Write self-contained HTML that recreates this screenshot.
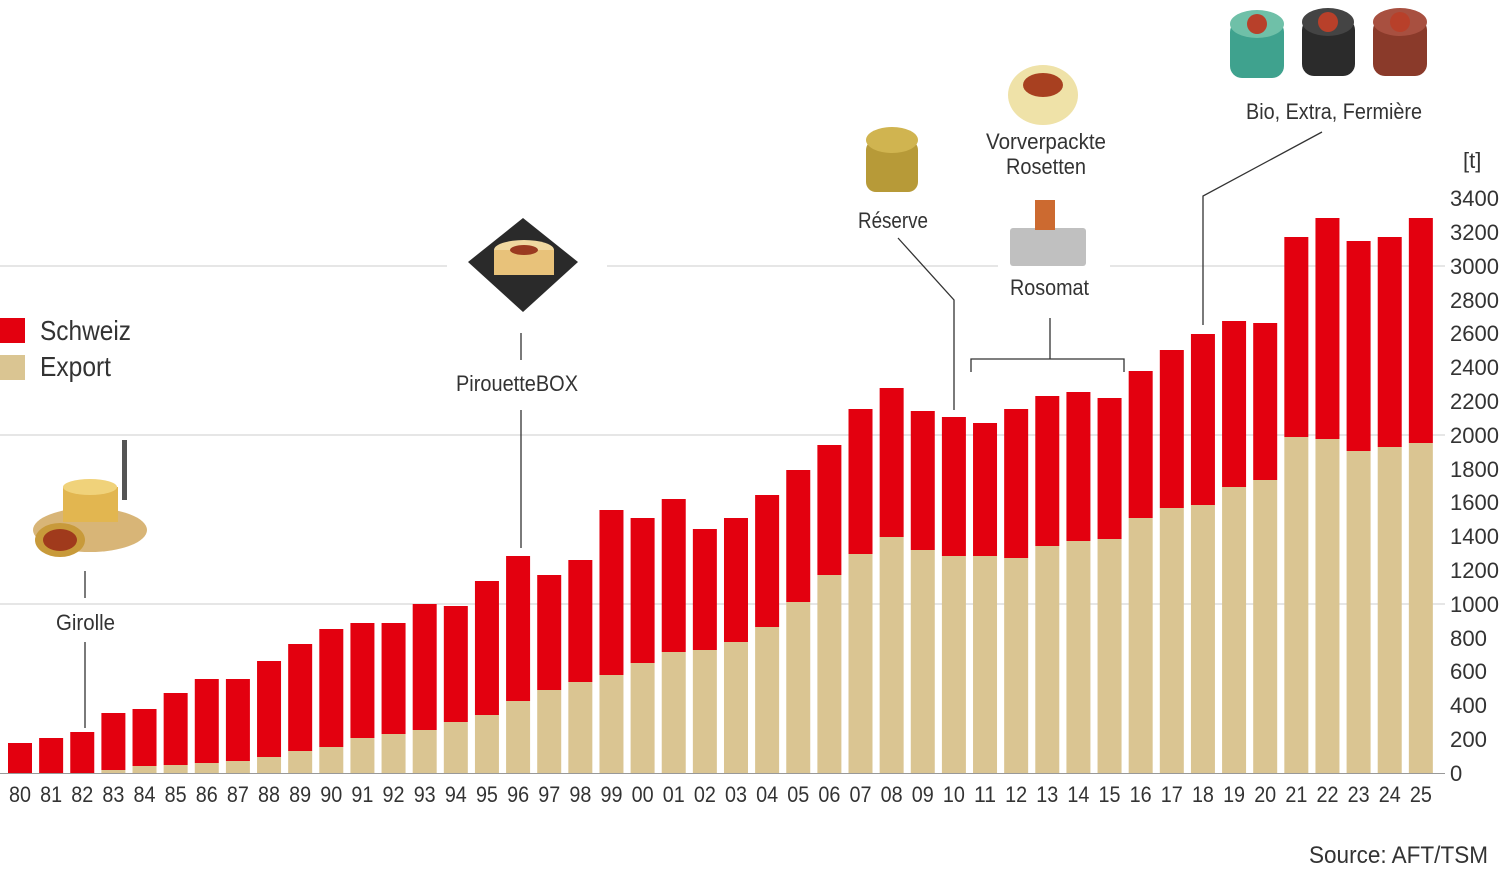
<!DOCTYPE html>
<html><head><meta charset="utf-8"><style>
html,body{margin:0;padding:0;background:#fff;}
svg{display:block;font-family:"Liberation Sans Narrow","Liberation Sans",sans-serif;}
text{fill:#333;}
</style></head><body>
<svg width="1500" height="870" viewBox="0 0 1500 870" xmlns="http://www.w3.org/2000/svg">
<g stroke="#d6d6d6" stroke-width="1.2">
<line x1="0" y1="266" x2="447" y2="266"/><line x1="607" y1="266" x2="998" y2="266"/><line x1="1110" y1="266" x2="1445" y2="266"/>
<line x1="0" y1="435" x2="1445" y2="435"/>
<line x1="0" y1="604" x2="1445" y2="604"/>
</g>
<g id="bars"></g>
<line x1="0" y1="773.5" x2="1445" y2="773.5" stroke="#999" stroke-width="1"/>
<g id="xl" font-size="22" text-anchor="middle"></g>
<g font-size="22" text-anchor="start">
<text x="1450" y="206" textLength="49" lengthAdjust="spacingAndGlyphs">3400</text><text x="1450" y="240" textLength="49" lengthAdjust="spacingAndGlyphs">3200</text><text x="1450" y="274" textLength="49" lengthAdjust="spacingAndGlyphs">3000</text>
<text x="1450" y="308" textLength="49" lengthAdjust="spacingAndGlyphs">2800</text><text x="1450" y="341" textLength="49" lengthAdjust="spacingAndGlyphs">2600</text><text x="1450" y="375" textLength="49" lengthAdjust="spacingAndGlyphs">2400</text>
<text x="1450" y="409" textLength="49" lengthAdjust="spacingAndGlyphs">2200</text><text x="1450" y="443" textLength="49" lengthAdjust="spacingAndGlyphs">2000</text><text x="1450" y="477" textLength="49" lengthAdjust="spacingAndGlyphs">1800</text>
<text x="1450" y="510" textLength="49" lengthAdjust="spacingAndGlyphs">1600</text><text x="1450" y="544" textLength="49" lengthAdjust="spacingAndGlyphs">1400</text><text x="1450" y="578" textLength="49" lengthAdjust="spacingAndGlyphs">1200</text>
<text x="1450" y="612" textLength="49" lengthAdjust="spacingAndGlyphs">1000</text><text x="1450" y="646" textLength="37" lengthAdjust="spacingAndGlyphs">800</text><text x="1450" y="679" textLength="37" lengthAdjust="spacingAndGlyphs">600</text>
<text x="1450" y="713" textLength="37" lengthAdjust="spacingAndGlyphs">400</text><text x="1450" y="747" textLength="37" lengthAdjust="spacingAndGlyphs">200</text><text x="1450" y="781">0</text>
<text x="1463" y="168">[t]</text>
</g>
<rect x="0" y="318" width="25" height="25" fill="#e3000f"/>
<rect x="0" y="355" width="25" height="25" fill="#dac592"/>
<text x="40" y="340" font-size="28" textLength="91" lengthAdjust="spacingAndGlyphs">Schweiz</text>
<text x="40" y="376" font-size="28" textLength="71" lengthAdjust="spacingAndGlyphs">Export</text>
<g stroke="#333" stroke-width="1.3" fill="none">
<line x1="85" y1="571" x2="85" y2="598"/><line x1="85" y1="642" x2="85" y2="728"/>
<line x1="521" y1="333" x2="521" y2="360"/><line x1="521" y1="410" x2="521" y2="548"/>
<polyline points="898,238 954,300 954,410"/>
<line x1="1050" y1="318" x2="1050" y2="359"/>
<polyline points="971,372 971,359 1124,359 1124,372"/>
<polyline points="1322,132 1203,196 1203,325"/>
</g>
<g font-size="22" text-anchor="middle">
<text x="85.5" y="630" textLength="59" lengthAdjust="spacingAndGlyphs">Girolle</text>
<text x="517" y="391" textLength="122" lengthAdjust="spacingAndGlyphs">PirouetteBOX</text>
<text x="893" y="228" textLength="70" lengthAdjust="spacingAndGlyphs">Réserve</text>
<text x="1046" y="149" textLength="120" lengthAdjust="spacingAndGlyphs">Vorverpackte</text>
<text x="1046" y="174" textLength="80" lengthAdjust="spacingAndGlyphs">Rosetten</text>
<text x="1049.5" y="295" textLength="79" lengthAdjust="spacingAndGlyphs">Rosomat</text>
<text x="1334" y="119" textLength="176" lengthAdjust="spacingAndGlyphs">Bio, Extra, Fermière</text>
</g>
<text x="1488" y="863" font-size="24" text-anchor="end" textLength="179" lengthAdjust="spacingAndGlyphs">Source: AFT/TSM</text>
<ellipse cx="90" cy="530" rx="57" ry="22" fill="#d8b577"/>
<rect x="63" y="487" width="55" height="35" fill="#e2b650"/>
<ellipse cx="90" cy="487" rx="27" ry="8" fill="#f0d27a"/>
<rect x="122" y="440" width="5" height="60" fill="#555"/>
<ellipse cx="60" cy="540" rx="25" ry="17" fill="#c89a3a"/>
<ellipse cx="60" cy="540" rx="17" ry="11" fill="#a03a1c"/>
<polygon points="468,262 523,218 578,262 523,312" fill="#2a2a2a"/>
<ellipse cx="524" cy="250" rx="30" ry="10" fill="#f0d8a0"/>
<rect x="494" y="250" width="60" height="25" fill="#e8c27a"/>
<ellipse cx="524" cy="250" rx="14" ry="5" fill="#9a3a20"/>
<rect x="866" y="140" width="52" height="52" rx="10" fill="#b79a38"/>
<ellipse cx="892" cy="140" rx="26" ry="13" fill="#d0b450"/>
<ellipse cx="1043" cy="95" rx="35" ry="30" fill="#efe2a8"/>
<ellipse cx="1043" cy="85" rx="20" ry="12" fill="#a84020"/>
<rect x="1010" y="228" width="76" height="38" rx="3" fill="#c0c0c0"/>
<rect x="1035" y="200" width="20" height="30" fill="#cc6a30"/>
<rect x="1230" y="20" width="54" height="58" rx="12" fill="#3fa28e"/>
<ellipse cx="1257" cy="24" rx="27" ry="14" fill="#6fc0a8"/>
<rect x="1302" y="18" width="53" height="58" rx="12" fill="#2b2b2b"/>
<ellipse cx="1328" cy="22" rx="26" ry="14" fill="#444"/>
<rect x="1373" y="18" width="54" height="58" rx="12" fill="#8a3a2a"/>
<ellipse cx="1400" cy="22" rx="27" ry="14" fill="#a85040"/>
<g fill="#b8402a"><circle cx="1257" cy="24" r="10"/><circle cx="1328" cy="22" r="10"/><circle cx="1400" cy="22" r="10"/></g>
</svg>
<script>
var T=[743,738,732,713,709,693,679,679,661,644,629,623,623,604,606,581,556,575,560,510,518,499,529,518,495,470,445,409,388,411,417,423,409,396,392,398,371,350,334,321,323,237,218,241,237,218];
var E=[773,773,773,770,766,765,763,761,757,751,747,738,734,730,722,715,701,690,682,675,663,652,650,642,627,602,575,554,537,550,556,556,558,546,541,539,518,508,505,487,480,437,439,451,447,443];
var ns="http://www.w3.org/2000/svg",b=document.getElementById("bars"),xl=document.getElementById("xl");
for(var i=0;i<46;i++){var cx=20+i*31.13;
var r=document.createElementNS(ns,"rect");r.setAttribute("x",cx-12);r.setAttribute("width",24);r.setAttribute("y",T[i]);r.setAttribute("height",E[i]-T[i]);r.setAttribute("fill","#e3000f");b.appendChild(r);
var e=document.createElementNS(ns,"rect");e.setAttribute("x",cx-12);e.setAttribute("width",24);e.setAttribute("y",E[i]);e.setAttribute("height",773-E[i]);e.setAttribute("fill","#dac592");b.appendChild(e);
var t=document.createElementNS(ns,"text");t.setAttribute("x",cx);t.setAttribute("y",802);t.setAttribute("textLength",22);t.setAttribute("lengthAdjust","spacingAndGlyphs");var y=(80+i)%100;t.textContent=(y<10?"0":"")+y;xl.appendChild(t);}
</script>
</body></html>
